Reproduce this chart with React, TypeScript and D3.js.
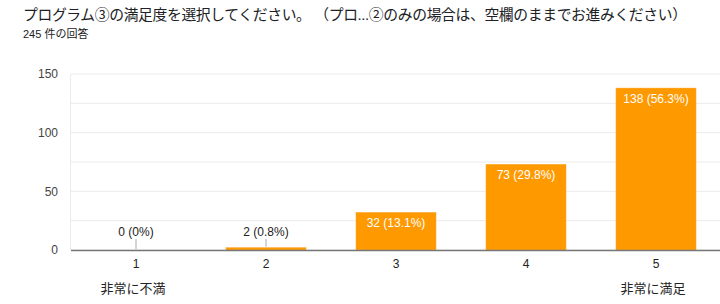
import React from "react";
import * as d3 from "d3";

const categories = ["1", "2", "3", "4", "5"];
const counts = [0, 2, 32, 73, 138];
const percents = ["0%", "0.8%", "13.1%", "29.8%", "56.3%"];
const subLabels = ["非常に不満", "", "", "", "非常に満足"];
const yTicks = [0, 50, 100, 150];
const gridTicks = [0, 25, 50, 75, 100, 125, 150];
const title = "プログラム③の満足度を選択してください。 （プロ...②のみの場合は、空欄のままでお進みください）";
const subtitle = "245 件の回答";

const W = 720;
const H = 304;
const FONT = "'Liberation Sans', Arial, 'Noto Sans CJK JP', sans-serif";

export default function App() {
  const x = d3.scaleBand<string>().domain(categories).range([71, 721]).paddingInner(50 / 130).paddingOuter(25 / 130);
  const y = d3.scaleLinear().domain([0, 150]).range([250, 74]);
  const bw = x.bandwidth();
  const center = (c: string) => (x(c) ?? 0) + bw / 2;

  return (
    <svg width={W} height={H} style={{ position: "absolute", left: 0, top: 0, background: "#fff" }} fontFamily={FONT}>
      <rect x={0} y={0} width={W} height={H} fill="#fff" />
      <text x={23} y={19.5} fontSize={14.8} fill="#202124" textLength={664} lengthAdjust="spacing">{title}</text>
      <text x={23} y={38} fontSize={11} fill="#202124">{subtitle}</text>
      {gridTicks.map((t) => (
        <line key={"g" + t} x1={71} x2={721} y1={y(t)} y2={y(t)} stroke="#ebebeb" strokeWidth={1} />
      ))}
      <line x1={70.5} x2={70.5} y1={y(150)} y2={y(0)} stroke="#ebebeb" />
      {yTicks.map((t) => (
        <text key={"y" + t} x={58} y={y(t)} dy="0.35em" textAnchor="end" fontSize={12} fill="#444">{t}</text>
      ))}
      {categories.map((c, i) => {
        const v = counts[i];
        const top = y(v);
        const h = y(0) - top;
        const label = `${v} (${percents[i]})`;
        const inside = h > 20;
        return (
          <g key={c}>
            {v > 0 && (
              <rect x={x(c)} y={top} width={bw} height={h} fill="#ff9900" stroke="#ffa726" strokeWidth={0.5} />
            )}
            {inside ? (
              <text x={center(c)} y={top + 15} textAnchor="middle" fontSize={12} fill="#fff">{label}</text>
            ) : (
              <g>
                <text x={center(c)} y={y(0) - 14} textAnchor="middle" fontSize={12} fill="#222">{label}</text>
                <line x1={center(c)} x2={center(c)} y1={y(0) - 11} y2={top - 1} stroke="#aaa" />
              </g>
            )}
            <text x={center(c)} y={267.5} textAnchor="middle" fontSize={12} fill="#222">{c}</text>
            {subLabels[i] && (
              <text x={center(c) - 3} y={293} textAnchor="middle" fontSize={13} fill="#222">{subLabels[i]}</text>
            )}
          </g>
        );
      })}
      <line x1={71} x2={721} y1={y(0) + 0.5} y2={y(0) + 0.5} stroke="#777" strokeWidth={1.5} />
    </svg>
  );
}
